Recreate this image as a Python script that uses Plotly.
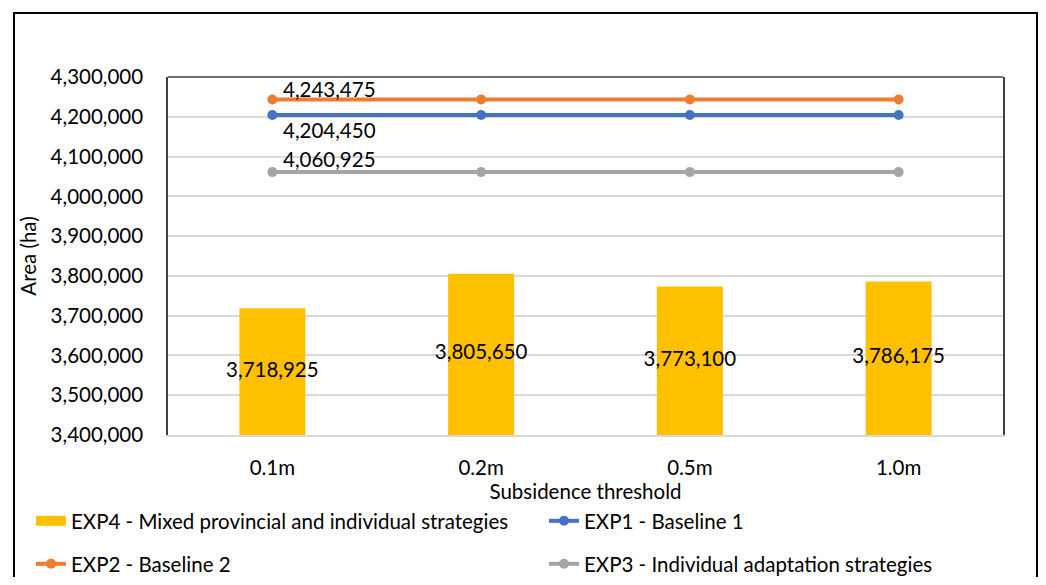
import plotly.graph_objects as go

categories = ["0.1m", "0.2m", "0.5m", "1.0m"]
exp4 = [3718925, 3805650, 3773100, 3786175]
exp1 = [4204450, 4204450, 4204450, 4204450]
exp2 = [4243475, 4243475, 4243475, 4243475]
exp3 = [4060925, 4060925, 4060925, 4060925]
y_ticks = list(range(3400000, 4300001, 100000))

Y_MIN, Y_MAX = 3400000, 4300000
FONT = "Lato"
FS = 20.5
C_YEL, C_BLUE, C_ORA, C_GRAY = "#FFC000", "#4472C4", "#ED7D31", "#A5A5A5"
EXP4_NAME = "EXP4 - Mixed provincial and individual strategies"

def fmt(v):
    return f"{v:,}"

# page has 8px body margin; figure sized to fit inside the window
OX, OY = 8, 8
W, H = 1030, 569
# target pixel positions (window coordinates)
PL, PT, PR, PB = 168, 77, 1003, 435
L, T = PL - OX, PT - OY
R, B = OX + W - PR, OY + H - PB
PW, PH = PR - PL, PB - PT
def px(xp): return (xp - PL) / PW
def py(yp): return (PB - yp) / PH

fig = go.Figure()
fig.add_trace(go.Bar(
    x=categories, y=[v - Y_MIN for v in exp4], base=Y_MIN,
    name=EXP4_NAME, legendgroup="exp4", showlegend=False,
    marker=dict(color=C_YEL, line=dict(width=0)), width=0.316,
    hoverinfo="skip"))
# legend swatch for the bars (wide rectangle like the original)
fig.add_trace(go.Scatter(
    x=[None], y=[None], mode="lines", name=EXP4_NAME, legendgroup="exp4",
    line=dict(color=C_YEL, width=13), legend="legend"))
# bar labels centred on visible bar part
fig.add_trace(go.Scatter(
    x=categories, y=[(v + Y_MIN) / 2 for v in exp4], mode="text",
    text=[fmt(v) for v in exp4], textposition="middle center",
    textfont=dict(family=FONT, size=FS, color="#000000"),
    showlegend=False, hoverinfo="skip"))

for vals, name, col, leg in [
    (exp1, "EXP1 - Baseline 1", C_BLUE, "legend2"),
    (exp2, "EXP2 - Baseline 2", C_ORA, "legend3"),
    (exp3, "EXP3 - Individual adaptation strategies", C_GRAY, "legend4"),
]:
    fig.add_trace(go.Scatter(
        x=categories, y=vals, mode="lines+markers", name=name,
        line=dict(color=col, width=4), marker=dict(color=col, size=10),
        legend=leg))

# data labels on the first point of each line
for vals, ysh in [(exp2, 10), (exp1, -15), (exp3, 13)]:
    fig.add_annotation(x=categories[0], y=vals[0], text=fmt(vals[0]),
                       xref="x", yref="y", showarrow=False,
                       xanchor="left", yanchor="middle", xshift=9, yshift=ysh,
                       font=dict(family=FONT, size=FS, color="#000000"))

# outer frame
fig.add_shape(type="rect", xref="paper", yref="paper",
              x0=px(14), x1=px(1037), y0=py(610), y1=py(13),
              line=dict(color="#000000", width=2), fillcolor="rgba(0,0,0,0)",
              layer="above")
# plot area top border
fig.add_shape(type="line", xref="paper", yref="paper", x0=0, x1=1, y0=1, y1=1,
              line=dict(color="#404040", width=1.5), layer="above")

def leg(xp, yp):
    return dict(orientation="h", x=px(xp), y=py(yp), xanchor="left",
                yanchor="middle", font=dict(family=FONT, size=FS, color="#000000"),
                bgcolor="rgba(0,0,0,0)")

fig.update_layout(
    width=W, height=H,
    margin=dict(l=L, r=R, t=T, b=B, autoexpand=False),
    paper_bgcolor="white", plot_bgcolor="white",
    font=dict(family=FONT, size=FS, color="#000000"),
    legend=leg(31, 521), legend2=leg(544, 521),
    legend3=leg(31, 564), legend4=leg(544, 564),
    xaxis=dict(type="category", showgrid=False, showline=True, linecolor="#d9d9d9",
               linewidth=1.5, ticks="outside", ticklen=14, tickcolor="rgba(0,0,0,0)",
               title=dict(text="Subsidence threshold", standoff=5,
                          font=dict(family=FONT, size=FS)),
               automargin=False),
    yaxis=dict(range=[Y_MIN, Y_MAX], tickvals=y_ticks, tickformat=",",
               showgrid=True, gridcolor="#d9d9d9", gridwidth=1.5,
               showline=True, mirror=True, linecolor="#404040", linewidth=1.5,
               zeroline=False, ticks="outside", ticklen=19, tickcolor="rgba(0,0,0,0)",
               title=dict(text="Area (ha)", standoff=8, font=dict(family=FONT, size=FS)),
               automargin=False),
)

fig.write_html("out.html")
